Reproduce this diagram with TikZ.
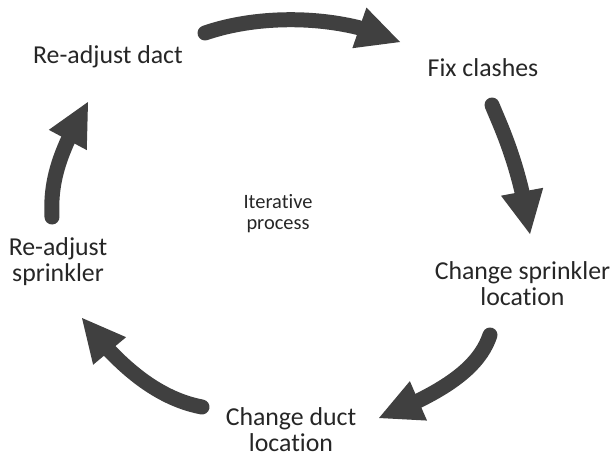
\documentclass[tikz,border=0pt]{standalone}
\usepackage{fontspec}
\setmainfont[Ligatures={NoCommon}]{Carlito}
\usetikzlibrary{arrows.meta,bending}
\definecolor{arrowgray}{HTML}{404040}
\definecolor{textgray}{HTML}{262626}
\newcommand{\twolines}[2]{\begin{tabular}[t]{@{}c@{}}#1\\#2\end{tabular}}
\begin{document}
\begin{tikzpicture}[x=0.75pt,y=-0.75pt,
  cyc/.style={draw=arrowgray, line width=11.25pt, line cap=round,
    -{Triangle[length=32.25pt,width=32.25pt,line width=0pt]}},
  lbl/.style={text=textgray, inner sep=0pt, anchor=base,
    font=\fontsize{19.35}{19.5}\selectfont},
  centerlbl/.style={text=textgray, inner sep=0pt, anchor=base,
    font=\fontsize{15.3}{15.75}\selectfont}]
\useasboundingbox (0,0) rectangle (616,457);
% labels
\node[lbl] (readjd) at (108,63) {Re-adjust dact};
\node[lbl] (fix) at (483,76) {Fix clashes};
\node[lbl] (chs) at (522.5,279) {\twolines{Change sprinkler}{location}};
\node[lbl] (chd) at (291,425) {\twolines{Change duct}{location}};
\node[lbl] (reads) at (58,255) {\twolines{Re-adjust}{sprinkler}};
\node[centerlbl] (iter) at (278,208) {\twolines{Iterative}{process}};
% arrow end points
\coordinate (a1s) at (205,33);  \coordinate (a1e) at (400,42);
\coordinate (a2s) at (492,105); \coordinate (a2e) at (530,234);
\coordinate (a3s) at (490,335); \coordinate (a3e) at (379,418);
\coordinate (a4s) at (202,407); \coordinate (a4e) at (82,318);
\coordinate (a5s) at (52,217);  \coordinate (a5e) at (88,102);
% arrows
\draw[cyc] (a1s) .. controls (260,14) and (340,14) .. (a1e);
\draw[cyc] (a2s) .. controls (500,125) and (520,165) .. (a2e);
\draw[cyc] (a3s) .. controls (480,365) and (450,390) .. (a3e);
\draw[cyc] (a4s) .. controls (165,400) and (125,375) .. (a4e);
\draw[cyc] (a5s) .. controls (50,180) and (60,150) .. (a5e);
\end{tikzpicture}
\end{document}
